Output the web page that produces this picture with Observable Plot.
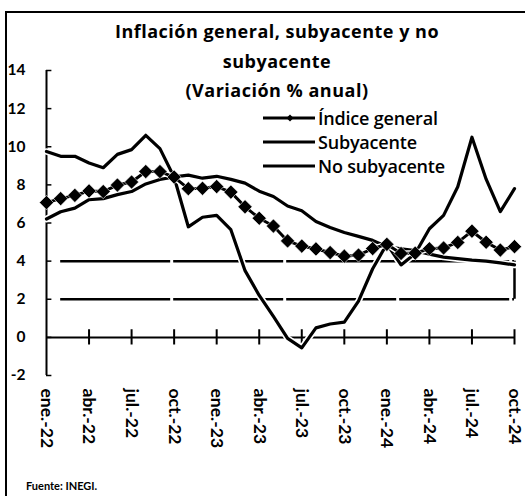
<!DOCTYPE html>
<html>
<head>
<meta charset="utf-8">
<script src="https://cdn.jsdelivr.net/npm/d3@7"></script>
<script src="https://cdn.jsdelivr.net/npm/@observablehq/plot@0.6"></script>
<style>
  body { margin: 0; background: #fff; }
  #wrap { position: relative; width: 525px; height: 496px; overflow: hidden; font-family: Lato, sans-serif; color: #000; background: #fff; }
  #frame { position: absolute; left: 5px; top: 11px; right: -5px; bottom: -5px; border-left: 2.5px solid #000; border-top: 2.5px solid #000; }
  #chart { position: absolute; left: 0; top: 0; }
  #title { position: absolute; left: 40px; right: 11px; top: 17px; text-align: center; font-family: 'Open Sans', sans-serif; font-weight: bold; font-size: 18px; letter-spacing: 0.5px; line-height: 29.5px; }
  #legend { position: absolute; left: 263px; top: 106px; font-family: 'Open Sans', sans-serif; font-size: 18px; font-weight: 600; letter-spacing: -0.2px; }
  #legend .row { display: flex; align-items: center; height: 24px; }
  #legend svg { display: block; margin-right: 3px; }
  #source { position: absolute; left: 26px; top: 479px; font-size: 11px; font-weight: bold; }
</style>
</head>
<body>
<div id="wrap">
  <div id="frame"></div>
  <div id="chart"></div>
  <div id="title">Inflación general, subyacente y no<br>subyacente<br>(Variación % anual)</div>
  <div id="legend"></div>
  <div id="source">Fuente: INEGI.</div>
</div>
<script>
// Months (ene.-22 .. oct.-24)
const months = [
  "ene.-22","feb.-22","mar.-22","abr.-22","may.-22","jun.-22","jul.-22","ago.-22","sep.-22","oct.-22","nov.-22","dic.-22",
  "ene.-23","feb.-23","mar.-23","abr.-23","may.-23","jun.-23","jul.-23","ago.-23","sep.-23","oct.-23","nov.-23","dic.-23",
  "ene.-24","feb.-24","mar.-24","abr.-24","may.-24","jun.-24","jul.-24","ago.-24","sep.-24","oct.-24"
];
// Índice general
const general = [
  7.07, 7.28, 7.45, 7.68, 7.65, 7.99, 8.15, 8.70, 8.70, 8.41, 7.80, 7.82,
  7.91, 7.62, 6.85, 6.25, 5.84, 5.06, 4.79, 4.64, 4.45, 4.26, 4.32, 4.66,
  4.88, 4.40, 4.42, 4.65, 4.69, 4.98, 5.57, 4.99, 4.58, 4.76
];
// Subyacente
const subyacente = [
  6.21, 6.59, 6.78, 7.22, 7.28, 7.49, 7.65, 8.05, 8.28, 8.42, 8.51, 8.35,
  8.45, 8.29, 8.09, 7.67, 7.39, 6.89, 6.64, 6.08, 5.76, 5.50, 5.30, 5.09,
  4.76, 4.64, 4.55, 4.37, 4.21, 4.13, 4.05, 4.00, 3.91, 3.80
];
// No subyacente
const noSubyacente = [
  9.75, 9.50, 9.50, 9.15, 8.90, 9.60, 9.85, 10.60, 9.90, 8.40, 5.80, 6.30,
  6.40, 5.65, 3.50, 2.20, 1.10, -0.05, -0.55, 0.50, 0.70, 0.80, 1.90, 3.60,
  4.90, 3.80, 4.40, 5.70, 6.40, 7.90, 10.50, 8.30, 6.60, 7.80
];
// Banda de variabilidad del objetivo
const bandLow = 2, bandHigh = 4;
const bandStartMonth = 1, bandEndMonth = 33;
const yTicks = [-2, 0, 2, 4, 6, 8, 10, 12, 14];
const xTicks = months.map((m, i) => i).filter(i => i % 3 === 0);

const rows = months.map((m, i) => ({i, m, general: general[i], core: subyacente[i], noncore: noSubyacente[i]}));

const chart = Plot.plot({
  width: 525,
  height: 470,
  marginLeft: 46,
  marginRight: 11,
  marginTop: 70,
  marginBottom: 95,
  x: {type: "linear", domain: [0, months.length - 1], axis: null},
  y: {domain: [-2, 14], axis: null},
  style: {fontFamily: "Lato, sans-serif", color: "#000", background: "transparent", overflow: "visible"},
  marks: [
    // target band
    Plot.ruleY([bandLow, bandHigh], {x1: bandStartMonth, x2: bandEndMonth, stroke: "#000", strokeWidth: 2.5, strokeDasharray: "110,3"}),
    Plot.ruleX([bandEndMonth], {y1: bandLow, y2: bandHigh, stroke: "#000", strokeWidth: 2.5}),
    // axes
    Plot.ruleY([0], {stroke: "#000", strokeWidth: 2}),
    Plot.ruleX([0], {y1: -2, y2: 14, stroke: "#000", strokeWidth: 2}),
    Plot.ruleY(yTicks, {x1: 0, x2: 0.38, stroke: "#000", strokeWidth: 1.5}),
    Plot.ruleX(xTicks.filter(d => d > 0), {y1: -0.4, y2: 0.4, stroke: "#000", strokeWidth: 2}),
    Plot.text(yTicks, {y: d => d, frameAnchor: "left", dx: -21, textAnchor: "end", text: d => String(d),
      fontSize: 15.5, fontWeight: "bold", letterSpacing: "-0.6px", fill: "#000"}),
    Plot.text(xTicks, {x: d => d, frameAnchor: "bottom", dy: 13, rotate: 90, textAnchor: "start", lineAnchor: "middle",
      text: d => months[d], fontSize: 17.5, fontWeight: "bold", fill: "#000"}),
    // series
    Plot.line(rows, {x: "i", y: "core", stroke: "#fff", strokeWidth: 6.5}),
    Plot.line(rows, {x: "i", y: "core", stroke: "#000", strokeWidth: 3.2}),
    Plot.line(rows, {x: "i", y: "noncore", stroke: "#fff", strokeWidth: 6.5}),
    Plot.line(rows, {x: "i", y: "noncore", stroke: "#000", strokeWidth: 3.2}),
    Plot.line(rows, {x: "i", y: "general", stroke: "#fff", strokeWidth: 6}),
    Plot.line(rows, {x: "i", y: "general", stroke: "#000", strokeWidth: 3}),
    Plot.dot(rows, {x: "i", y: "general", symbol: "diamond2", r: 6.4, fill: "#000", stroke: "#fff", strokeWidth: 0.6})
  ]
});
document.getElementById("chart").appendChild(chart);

// Legend
const legendItems = [
  {label: "Índice general", marker: true},
  {label: "Subyacente", marker: false},
  {label: "No subyacente", marker: false}
];
const legend = document.getElementById("legend");
for (const item of legendItems) {
  const row = document.createElement("div");
  row.className = "row";
  const sw = `<svg width="52" height="12"><line x1="0" y1="6" x2="52" y2="6" stroke="#000" stroke-width="3.2"/>` +
    (item.marker ? `<path d="M27,2.5 L30.5,6 L27,9.5 L23.5,6 Z" fill="#000"/>` : "") + `</svg>`;
  row.innerHTML = sw + `<span>${item.label}</span>`;
  legend.appendChild(row);
}
</script>
</body>
</html>
